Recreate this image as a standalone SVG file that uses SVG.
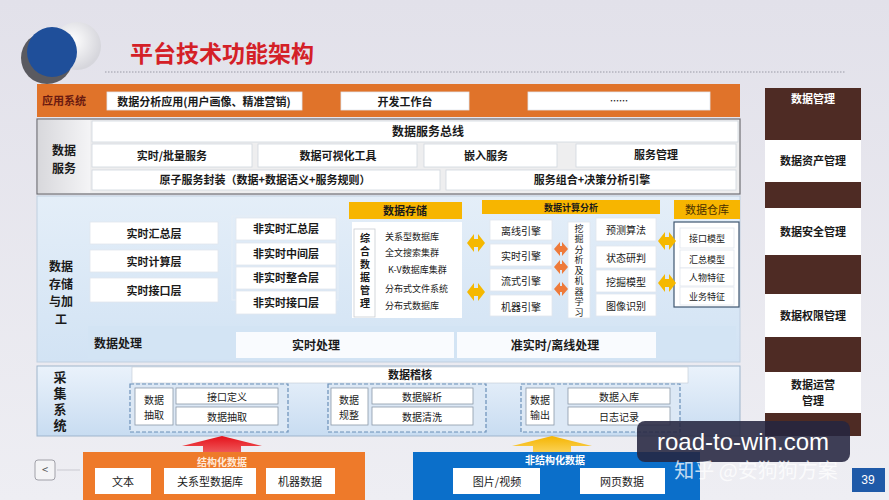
<svg xmlns="http://www.w3.org/2000/svg" width="889" height="500" viewBox="0 0 889 500">
<defs>
<linearGradient id="bg" x1="0" y1="0" x2="0" y2="1"><stop offset="0" stop-color="#e2e1ea"/><stop offset="1" stop-color="#eeeef3"/></linearGradient>
<linearGradient id="blueBg" x1="0" y1="0" x2="0" y2="1"><stop offset="0" stop-color="#e4eef8"/><stop offset="1" stop-color="#d2e3f4"/></linearGradient>
<linearGradient id="collBg" x1="0" y1="0" x2="0" y2="1"><stop offset="0" stop-color="#eaf2fb"/><stop offset="1" stop-color="#c8dcf1"/></linearGradient>
<linearGradient id="grayLbl" x1="0" y1="0" x2="1" y2="0"><stop offset="0" stop-color="#d8d8dc"/><stop offset="1" stop-color="#f4f4f6"/></linearGradient>
<linearGradient id="redArr" x1="0" y1="0" x2="0" y2="1"><stop offset="0" stop-color="#e5101a"/><stop offset="1" stop-color="#f06060"/></linearGradient>
<linearGradient id="yelArr" x1="0" y1="0" x2="0" y2="1"><stop offset="0" stop-color="#f5b400"/><stop offset="1" stop-color="#fbd560"/></linearGradient>
<radialGradient id="whiteBall" cx="0.4" cy="0.4" r="0.6"><stop offset="0" stop-color="#ffffff"/><stop offset="1" stop-color="#d6d6dc"/></radialGradient>
<g id="dblY"><path d="M0,0 L7,-9 L7,-4 L11,-4 L11,-9 L18,0 L11,9 L11,4 L7,4 L7,9 Z" fill="#f5b800"/></g>
<g id="dblO"><path d="M0,0 L6,-7 L6,-3 L8,-3 L8,-7 L14,0 L8,7 L8,3 L6,3 L6,7 Z" fill="#ee7a3a"/></g>
</defs>
<style>
text{font-family:"Noto Sans CJK SC","Liberation Sans",sans-serif;font-weight:bold;fill:#1a1a1a;text-anchor:middle;dominant-baseline:central}
.s9{font-size:9px}
.s10{font-size:10px}
.s11{font-size:11px}
.s12{font-size:12px}
.s13{font-size:13px}
.n{font-weight:normal}
.l{text-anchor:start}
.v{writing-mode:vertical-rl;text-orientation:upright}
.wb{fill:#ffffff;stroke:#e0e6ee;stroke-width:0.8}
.wbs{fill:#ffffff;stroke:#d0d6de;stroke-width:0.8}
.yh{fill:#f7b500}
.brown{fill:#4e2b24}
.dash{fill:#dce8f5;stroke:#6a8fb8;stroke-width:1.2;stroke-dasharray:4 2}
.lbox{fill:#ffffff;stroke:#8a98a8;stroke-width:0.8}
</style>
<rect x="0" y="0" width="889" height="500" fill="url(#bg)"/>

<g id="logo">
<circle cx="47" cy="58" r="26" fill="#5a5a60"/>
<circle cx="77" cy="46" r="24" fill="url(#whiteBall)"/>
<circle cx="52" cy="52" r="25" fill="#1f4f9a"/>
</g>
<g id="title">
<text x="222" y="52" style="font-size:23px;fill:#d42027">平台技术功能架构</text>
<line x1="105" y1="72" x2="846" y2="72" stroke="#9a9aa6" stroke-width="1" stroke-dasharray="1.5 1.5"/>
</g>

<g id="app-layer">
<rect x="37" y="84" width="703" height="33" fill="#e0732a"/>
<text class="s11" x="64" y="100" style="fill:#6a1a10">应用系统</text>
<rect x="107" y="92" width="195" height="18" class="wb"/>
<text class="s11" x="204" y="101">数据分析应用(用户画像、精准营销)</text>
<rect x="341" y="92" width="128" height="18" class="wb"/>
<text class="s11" x="405" y="101">开发工作台</text>
<rect x="528" y="92" width="182" height="18" class="wb"/>
<text class="s9" x="619" y="100">……</text>
</g>

<g id="data-service">
<rect x="37" y="119" width="703" height="75" fill="#eeeeef" stroke="#6e6e74" stroke-width="1.2"/>
<rect x="38" y="120" width="52" height="73" fill="url(#grayLbl)"/>
<text class="s12" x="64" y="149"><tspan x="64" y="149">数据</tspan><tspan x="64" y="166.5">服务</tspan></text>
<rect x="92" y="121" width="646" height="21" class="wbs"/>
<text class="s12" x="428" y="130">数据服务总线</text>
<rect x="92" y="144" width="160" height="23" class="wbs"/>
<text class="s11" x="172" y="155">实时/批量服务</text>
<rect x="258" y="144" width="159" height="23" class="wbs"/>
<text class="s11" x="338" y="155">数据可视化工具</text>
<rect x="424" y="144" width="133" height="23" class="wbs"/>
<text class="s11" x="486" y="155">嵌入服务</text>
<rect x="576" y="144" width="160" height="23" class="wbs"/>
<text class="s11" x="656" y="154">服务管理</text>
<rect x="92" y="170" width="348" height="20" class="wbs"/>
<text class="s11" x="265" y="179">原子服务封装（数据+数据语义+服务规则）</text>
<rect x="446" y="170" width="290" height="20" class="wbs"/>
<text class="s11" x="592" y="179">服务组合+决策分析引擎</text>
</g>

<g id="storage">
<rect x="37" y="196" width="703" height="166" fill="url(#blueBg)" stroke="#c0cfe0" stroke-width="1"/>
<text class="s12" x="61" y="265"><tspan x="61" y="265">数据</tspan><tspan x="61" y="282.5">存储</tspan><tspan x="61" y="300">与加</tspan><tspan x="61" y="317.5">工</tspan></text>
</g>
<g id="realtime">
<rect x="90" y="222" width="128" height="22" class="wb"/>
<text class="s11" x="154" y="233">实时汇总层</text>
<rect x="90" y="250" width="128" height="22" class="wb"/>
<text class="s11" x="154" y="261">实时计算层</text>
<rect x="90" y="278" width="128" height="24" class="wb"/>
<text class="s11" x="154" y="290">实时接口层</text>
</g>
<g id="nonrealtime">
<rect x="232" y="216" width="106" height="84" fill="none" stroke="#e6eef6" stroke-width="1"/>
<rect x="236" y="218" width="100" height="22" class="wb"/>
<text class="s11" x="286" y="228">非实时汇总层</text>
<rect x="236" y="243" width="100" height="22" class="wb"/>
<text class="s11" x="286" y="253">非实时中间层</text>
<rect x="236" y="267" width="100" height="22" class="wb"/>
<text class="s11" x="286" y="277">非实时整合层</text>
<rect x="236" y="291" width="100" height="23" class="wb"/>
<text class="s11" x="286" y="302">非实时接口层</text>
</g>
<g id="data-storage">
<rect x="349" y="202" width="113" height="17" class="yh"/>
<text class="s11" x="405" y="210">数据存储</text>
<rect x="352" y="222" width="110" height="96" fill="#ffffff"/>
<rect x="354" y="229" width="21" height="88" fill="#ffffff" stroke="#c8ccd2" stroke-width="0.8"/>
<text class="s10 v" x="365" y="272" style="letter-spacing:3px">综合数据管理</text>
<text class="s9 n l" x="385" y="236">关系型数据库</text>
<text class="s9 n l" x="385" y="252">全文搜索集群</text>
<text class="s9 n l" x="388" y="269">K-V数据库集群</text>
<text class="s9 n l" x="385" y="288">分布式文件系统</text>
<text class="s9 n l" x="385" y="305">分布式数据库</text>
</g>
<g id="compute">
<rect x="482" y="200" width="178" height="14" class="yh"/>
<text class="s9" x="571" y="207">数据计算分析</text>
<rect x="490" y="220" width="62" height="20" class="wb"/>
<text class="s10 n" x="521" y="230">离线引擎</text>
<rect x="490" y="244" width="62" height="22" class="wb"/>
<text class="s10 n" x="521" y="255">实时引擎</text>
<rect x="490" y="269" width="62" height="22" class="wb"/>
<text class="s10 n" x="521" y="280">流式引擎</text>
<rect x="490" y="295" width="62" height="21" class="wb"/>
<text class="s10 n" x="521" y="306">机器引擎</text>
<rect x="568" y="222" width="22" height="96" class="wb"/>
<text class="s9 n v" x="579" y="271" style="letter-spacing:1.5px">挖掘分析及机器学习</text>
<rect x="596" y="218" width="60" height="23" class="wb"/>
<text class="s10 n" x="626" y="229">预测算法</text>
<rect x="596" y="246" width="60" height="22" class="wb"/>
<text class="s10 n" x="626" y="257">状态研判</text>
<rect x="596" y="270" width="60" height="22" class="wb"/>
<text class="s10 n" x="626" y="281">挖掘模型</text>
<rect x="596" y="294" width="60" height="22" class="wb"/>
<text class="s10 n" x="626" y="305">图像识别</text>
</g>
<g id="warehouse">
<rect x="674" y="200" width="66" height="19" class="yh"/>
<text class="s11 n" x="707" y="209" style="fill:#4a3000">数据仓库</text>
<rect x="674" y="222" width="65" height="85" fill="#ffffff" stroke="#3e5670" stroke-width="1.2"/>
<rect x="680" y="228" width="54" height="20" class="wb"/>
<text class="s9 n" x="707" y="238">接口模型</text>
<rect x="680" y="250" width="54" height="18" class="wb"/>
<text class="s9 n" x="707" y="259">汇总模型</text>
<rect x="680" y="268" width="54" height="18" class="wb"/>
<text class="s9 n" x="707" y="277">人物特征</text>
<rect x="680" y="287" width="54" height="18" class="wb"/>
<text class="s9 n" x="707" y="296">业务特征</text>
</g>
<g id="processing">
<rect x="88" y="326" width="648" height="33" fill="#d3e4f4"/>
<text class="s12 l" x="94" y="342">数据处理</text>
<rect x="236" y="332" width="218" height="26" fill="#ffffff" opacity="0.85"/>
<text class="s12" x="316" y="344">实时处理</text>
<rect x="457" y="332" width="199" height="26" fill="#ffffff" opacity="0.85"/>
<text class="s12" x="555" y="344">准实时/离线处理</text>
</g>

<g id="collection">
<rect x="37" y="366" width="703" height="70" fill="url(#collBg)" stroke="#9fb5cc" stroke-width="1"/>
<text class="s13 v" x="60" y="403" style="letter-spacing:3px">采集系统</text>
<rect x="132" y="367" width="556" height="16" fill="#ffffff" stroke="#c0c8d4" stroke-width="0.6"/>
<text class="s11" x="410" y="374">数据稽核</text>
</g>
<g id="extract">
<rect x="130" y="384" width="158" height="48" class="dash"/>
<rect x="135" y="388" width="38" height="37" class="lbox"/>
<text class="s10 n" x="154" y="398.5"><tspan x="154" y="398.5">数据</tspan><tspan x="154" y="413.5">抽取</tspan></text>
<rect x="176" y="388" width="102" height="16" class="lbox"/>
<text class="s10 n" x="227" y="396">接口定义</text>
<rect x="176" y="407" width="102" height="18" class="lbox"/>
<text class="s10 n" x="227" y="416">数据抽取</text>
</g>
<g id="normalize">
<rect x="328" y="384" width="158" height="48" class="dash"/>
<rect x="331" y="388" width="37" height="37" class="lbox"/>
<text class="s10 n" x="349" y="398.5"><tspan x="349" y="398.5">数据</tspan><tspan x="349" y="413.5">规整</tspan></text>
<rect x="372" y="388" width="101" height="16" class="lbox"/>
<text class="s10 n" x="422" y="396">数据解析</text>
<rect x="372" y="407" width="101" height="18" class="lbox"/>
<text class="s10 n" x="422" y="416">数据清洗</text>
</g>
<g id="output">
<rect x="521" y="384" width="159" height="48" class="dash"/>
<rect x="526" y="388" width="28" height="37" class="lbox"/>
<text class="s10 n" x="540" y="398.5"><tspan x="540" y="398.5">数据</tspan><tspan x="540" y="413.5">输出</tspan></text>
<rect x="568" y="388" width="102" height="16" class="lbox"/>
<text class="s10 n" x="619" y="396">数据入库</text>
<rect x="568" y="407" width="102" height="18" class="lbox"/>
<text class="s10 n" x="619" y="416">日志记录</text>
</g>

<g id="connectors">
<use href="#dblY" x="467" y="243"/>
<use href="#dblY" x="467" y="292"/>
<use href="#dblO" x="554" y="249"/>
<use href="#dblO" x="554" y="267"/>
<use href="#dblO" x="554" y="289"/>
<use href="#dblY" x="658" y="241"/>
<use href="#dblY" x="658" y="283"/>
<path d="M222,436 L262,446 L241,446 L241,454 L203,454 L203,446 L182,446 Z" fill="url(#redArr)"/>
<path d="M552,436 L592,446 L571,446 L571,454 L533,454 L533,446 L512,446 Z" fill="url(#yelArr)"/>
</g>

<g id="structured">
<rect x="83" y="452" width="282" height="48" fill="#ee7a2a"/>
<text class="s10" x="222" y="461" style="fill:#ffe9d8">结构化数据</text>
<rect x="95" y="468" width="56" height="26" fill="#ffffff"/>
<text class="s11 n" x="123" y="481">文本</text>
<rect x="164" y="468" width="92" height="26" fill="#ffffff"/>
<text class="s11 n" x="210" y="481">关系型数据库</text>
<rect x="266" y="468" width="69" height="26" fill="#ffffff"/>
<text class="s11 n" x="300" y="481">机器数据</text>
</g>
<g id="unstructured">
<rect x="413" y="452" width="287" height="48" fill="#0b6fca"/>
<text class="s10" x="555" y="459" style="fill:#ffffff">非结构化数据</text>
<rect x="453" y="468" width="87" height="26" fill="#ffffff"/>
<text class="s11 n" x="497" y="481">图片/视频</text>
<rect x="580" y="468" width="85" height="26" fill="#ffffff"/>
<text class="s11 n" x="622" y="481">网页数据</text>
</g>

<g id="data-management">
<rect x="765" y="88" width="96" height="348" class="brown"/>
<text class="s11" x="813" y="98" style="fill:#ffffff">数据管理</text>
<rect x="765" y="140" width="96" height="42" fill="#ffffff"/>
<text class="s11" x="813" y="160">数据资产管理</text>
<rect x="765" y="208" width="96" height="47" fill="#ffffff"/>
<text class="s11" x="813" y="231">数据安全管理</text>
<rect x="765" y="294" width="96" height="43" fill="#ffffff"/>
<text class="s11" x="813" y="315">数据权限管理</text>
<rect x="765" y="372" width="96" height="41" fill="#ffffff"/>
<text class="s11" x="813" y="384"><tspan x="813" y="384">数据运营</tspan><tspan x="813" y="400">管理</tspan></text>
</g>

<g id="nav">
<rect x="35" y="460" width="20" height="20" rx="3" fill="#f4f4f6" stroke="#a0a0a8" stroke-width="1"/>
<text class="s11 n" x="45" y="469" style="fill:#555">&lt;</text>
<line x1="57" y1="470" x2="80" y2="470" stroke="#c0c0c8" stroke-width="0.8"/>
</g>
<g id="watermark">
<rect x="637" y="421" width="213" height="41" rx="8" fill="#262640" opacity="0.88"/>
<text x="743" y="441" style="font-family:'Liberation Sans','DejaVu Sans',sans-serif;font-weight:normal;font-size:24px;fill:#ffffff">road-to-win.com</text>
<text x="756" y="469" style="font-weight:normal;font-size:20px;fill:#ffffff;opacity:0.75">知乎 @安狗狗方案</text>
</g>
<g id="page">
<rect x="852" y="468" width="33" height="24" fill="#1f5aa8"/>
<text class="s12 n" x="868" y="480" style="fill:#ffffff;font-family:'Liberation Sans',sans-serif">39</text>
</g>
</svg>
